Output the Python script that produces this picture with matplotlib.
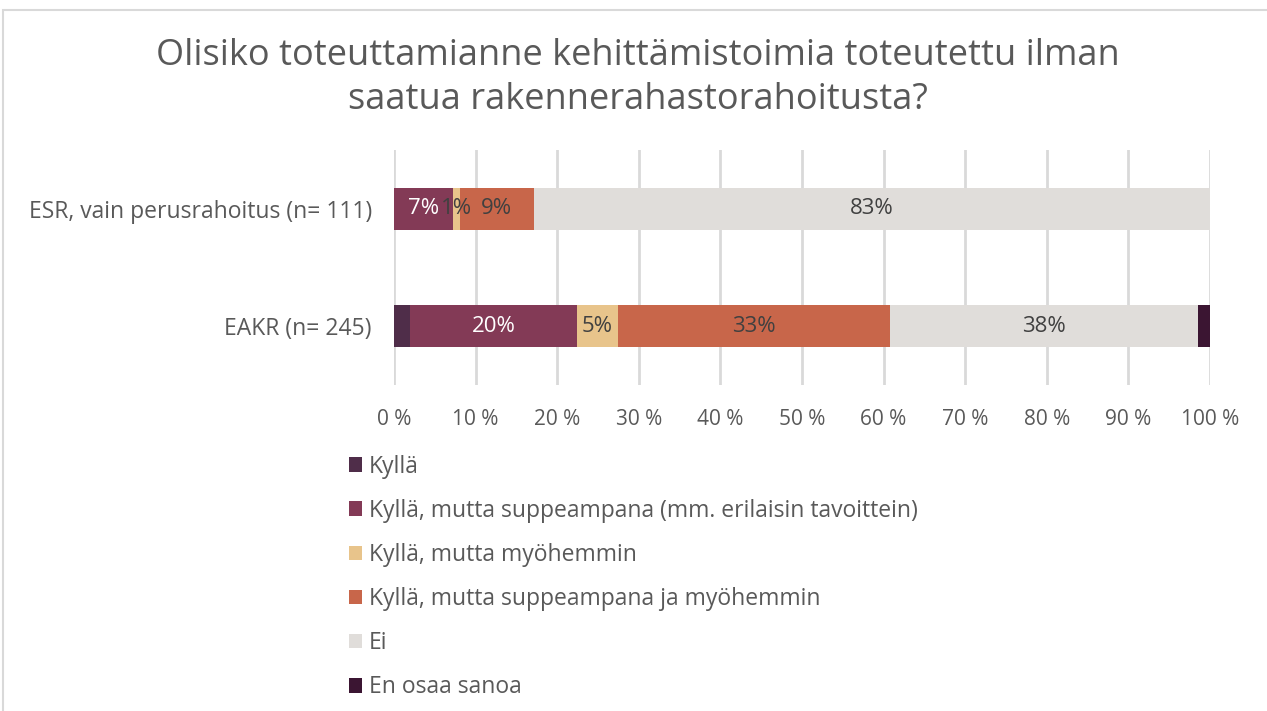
import matplotlib
matplotlib.use("Agg")
import matplotlib.pyplot as plt
from matplotlib.patches import Rectangle

categories = ["EAKR (n= 245)", "ESR, vain perusrahoitus (n= 111)"]
series_names = [
    "Kyllä",
    "Kyllä, mutta suppeampana (mm. erilaisin tavoittein)",
    "Kyllä, mutta myöhemmin",
    "Kyllä, mutta suppeampana ja myöhemmin",
    "Ei",
    "En osaa sanoa",
]
# values per series: [EAKR, ESR]
kylla = [2.0, 0.0]
kylla_suppeampana = [20.4, 7.2]
kylla_myohemmin = [5.0, 0.9]
kylla_supp_ja_myoh = [33.4, 9.0]
ei = [37.7, 82.9]
en_osaa = [1.5, 0.0]
series_values = [kylla, kylla_suppeampana, kylla_myohemmin, kylla_supp_ja_myoh, ei, en_osaa]
show_labels = [False, True, True, True, True, False]
colors = ["#4F2D49", "#833A56", "#E8C48B", "#C8664A", "#E0DDDA", "#3B1532"]
label_colors = ["white", "white", "#404040", "#404040", "#404040", "white"]
xticks = list(range(0, 101, 10))
xticklabels = [f"{t} %" for t in xticks]
title = "Olisiko toteuttamianne kehittämistoimia toteutettu ilman\nsaatua rakennerahastorahoitusta?"

plt.rcParams['font.family'] = ['Open Sans', 'DejaVu Sans']
W, H = 1267, 711
fig = plt.figure(figsize=(W / 100, H / 100), dpi=100)
ax = fig.add_axes([394 / W, 1 - 385 / H, (1210 - 394) / W, (385 - 150) / H])

ypos = list(range(len(categories)))
left = [0.0] * len(categories)
for name, vals, col, show, lc in zip(series_names, series_values, colors, show_labels, label_colors):
    bars = ax.barh(ypos, vals, left=left, height=0.36, color=col, label=name, zorder=3)
    if show:
        for b, v in zip(bars, vals):
            if v > 0:
                ax.text(b.get_x() + b.get_width() / 2, b.get_y() + b.get_height() / 2,
                        f"{round(v):.0f}%", ha="center", va="center", color=lc,
                        fontsize=16, zorder=4)
    left = [l + v for l, v in zip(left, vals)]

ax.set_xlim(0, 100)
ax.set_ylim(-0.5, 1.5)
ax.set_xticks(xticks)
ax.set_xticklabels(xticklabels, fontsize=15, color="#595959")
ax.set_yticks(ypos)
ax.set_yticklabels(categories, fontsize=16.5, color="#595959")
ax.tick_params(axis="both", length=0)
ax.tick_params(axis="x", pad=17)
ax.tick_params(axis="y", pad=16)
for s in ax.spines.values():
    s.set_visible(False)
ax.grid(axis="x", color="#D9D9D9", linewidth=2, zorder=0)
ax.set_axisbelow(True)

fig.text(638 / W, 1 - 78 / H, title, ha="center", va="center", fontsize=26,
         color="#595959", linespacing=1.3)

handles, labels = ax.get_legend_handles_labels()
leg = fig.legend(handles, labels, loc="upper left", bbox_to_anchor=(328 / W, 1 - 434 / H),
                 frameon=False, fontsize=16.5, labelcolor="#595959",
                 handlelength=0.6, handleheight=0.6, handletextpad=0.3,
                 labelspacing=0.88)

fig.patches.append(Rectangle((3 / W, -0.01), 1.02, 1 - 10 / H + 0.01, transform=fig.transFigure,
                             fill=False, edgecolor="#D9D9D9", linewidth=1.5, clip_on=False))

fig.savefig("out.png", dpi=100)
